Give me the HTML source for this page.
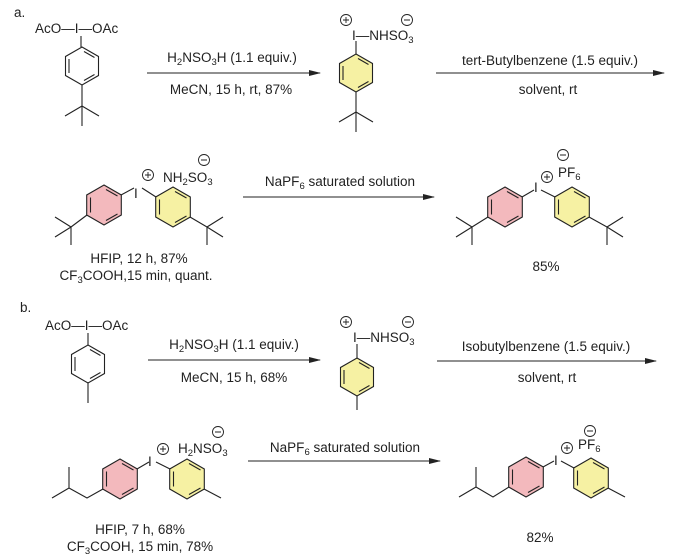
<!DOCTYPE html>
<html><head><meta charset="utf-8"><style>
html,body{margin:0;padding:0;background:#fff;}
svg{display:block;}
text{font-family:"Liberation Sans",Arial,sans-serif;font-size:13.5px;fill:#222;}
.s{font-size:9.5px;}
.m{text-anchor:middle;}
</style></head><body>
<svg width="693" height="558" viewBox="0 0 693 558" xmlns="http://www.w3.org/2000/svg">
<defs>
<marker id="ah" markerWidth="12" markerHeight="8" refX="11" refY="4" orient="auto" markerUnits="userSpaceOnUse">
<path d="M0,1 L12,4 L0,7 z" fill="#222"/>
</marker>
</defs>
<g stroke="#222" stroke-width="1.1" fill="none">
<g transform="translate(82,66)">
<polygon points="0,-19 16.5,-9.5 16.5,9.5 0,19 -16.5,9.5 -16.5,-9.5" fill="#fff"/>
<path d="M-13,-7 V7 M2,-14.5 L12.5,-8.5 M12.5,8.5 L2,14.5"/>
</g>
<path d="M81,36 V47 M82,85 V106 M82,106 L65,116 M82,106 L99,116 M82,106 V126"/>
<g transform="translate(356,73)">
<polygon points="0,-19 16.5,-9.5 16.5,9.5 0,19 -16.5,9.5 -16.5,-9.5" fill="#f6f1a3"/>
<path d="M-13,-7 V7 M2,-14.5 L12.5,-8.5 M12.5,8.5 L2,14.5"/>
</g>
<path d="M356,41 V54 M356,92 V112 M356,112 L339,122 M356,112 L373,122 M356,112 V132"/>
<path d="M147,73 H320" marker-end="url(#ah)"/>
<path d="M436,73 H664" marker-end="url(#ah)"/>
<path d="M243,197 H434" marker-end="url(#ah)"/>
<g transform="translate(104,205)">
<polygon points="0,-20 17.3,-10 17.3,10 0,20 -17.3,10 -17.3,-10" fill="#f3b9bd"/>
<path d="M-13.5,-7.5 V7.5 M2,-15.5 L13.5,-9 M13.5,9 L2,15.5"/>
</g>
<g transform="translate(173,207)">
<polygon points="0,-20 17.3,-10 17.3,10 0,20 -17.3,10 -17.3,-10" fill="#f6f1a3"/>
<path d="M-13.5,-7.5 V7.5 M2,-15.5 L13.5,-9 M13.5,9 L2,15.5"/>
</g>
<path d="M121,195 L134,188 M142,188 L156,197 M190,217 L207,227 M207,227 L223,217 M207,227 L223,237 M207,227 V245 M87,215 L71,227 M71,227 L55,217 M71,227 L55,237 M71,227 V245"/>
<g transform="translate(505,207)">
<polygon points="0,-20 17.3,-10 17.3,10 0,20 -17.3,10 -17.3,-10" fill="#f3b9bd"/>
<path d="M-13.5,-7.5 V7.5 M2,-15.5 L13.5,-9 M13.5,9 L2,15.5"/>
</g>
<g transform="translate(572,207)">
<polygon points="0,-20 17.3,-10 17.3,10 0,20 -17.3,10 -17.3,-10" fill="#f6f1a3"/>
<path d="M-13.5,-7.5 V7.5 M2,-15.5 L13.5,-9 M13.5,9 L2,15.5"/>
</g>
<path d="M522,197 L534,190 M541,190 L555,197 M589,217 L607,227 M607,227 L623,217 M607,227 L623,237 M607,227 V245 M488,217 L472,227 M472,227 L456,217 M472,227 L456,237 M472,227 V245"/>
<g transform="translate(88,364)">
<polygon points="0,-19 16.5,-9.5 16.5,9.5 0,19 -16.5,9.5 -16.5,-9.5" fill="#fff"/>
<path d="M-13,-7 V7 M2,-14.5 L12.5,-8.5 M12.5,8.5 L2,14.5"/>
</g>
<path d="M88,333 V345 M88,383 V403"/>
<g transform="translate(357,377)">
<polygon points="0,-19 16.5,-9.5 16.5,9.5 0,19 -16.5,9.5 -16.5,-9.5" fill="#f6f1a3"/>
<path d="M-13,-7 V7 M2,-14.5 L12.5,-8.5 M12.5,8.5 L2,14.5"/>
</g>
<path d="M357,344 V358 M357,396 V410"/>
<path d="M148,360 H320" marker-end="url(#ah)"/>
<path d="M437,361 H656" marker-end="url(#ah)"/>
<path d="M248,461 H440" marker-end="url(#ah)"/>
<g transform="translate(120,479)">
<polygon points="0,-20 17.3,-10 17.3,10 0,20 -17.3,10 -17.3,-10" fill="#f3b9bd"/>
<path d="M-13.5,-7.5 V7.5 M2,-15.5 L13.5,-9 M13.5,9 L2,15.5"/>
</g>
<g transform="translate(187,479)">
<polygon points="0,-20 17.3,-10 17.3,10 0,20 -17.3,10 -17.3,-10" fill="#f6f1a3"/>
<path d="M-13.5,-7.5 V7.5 M2,-15.5 L13.5,-9 M13.5,9 L2,15.5"/>
</g>
<path d="M137,469 L149,462 M156,462 L170,469 M204,489 L221,498 M103,489 L87,498 L69,488 M69,488 V467 M69,488 L52,498"/>
<g transform="translate(526,477)">
<polygon points="0,-20 17.3,-10 17.3,10 0,20 -17.3,10 -17.3,-10" fill="#f3b9bd"/>
<path d="M-13.5,-7.5 V7.5 M2,-15.5 L13.5,-9 M13.5,9 L2,15.5"/>
</g>
<g transform="translate(591,478)">
<polygon points="0,-20 17.3,-10 17.3,10 0,20 -17.3,10 -17.3,-10" fill="#f6f1a3"/>
<path d="M-13.5,-7.5 V7.5 M2,-15.5 L13.5,-9 M13.5,9 L2,15.5"/>
</g>
<path d="M543,467 L554,461 M561,461 L574,468 M608,488 L625,497 M509,487 L493,497 L476,487 M476,487 V467 M476,487 L459,497"/>
<g stroke-width="0.9">
<circle cx="346" cy="20" r="5.5"/><circle cx="407" cy="20" r="5.5"/>
<circle cx="148" cy="175" r="5.5"/><circle cx="204" cy="160" r="5.5"/>
<circle cx="547" cy="177" r="5.5"/><circle cx="563" cy="155" r="5.5"/>
<circle cx="346" cy="322" r="5.5"/><circle cx="408" cy="322" r="5.5"/>
<circle cx="163" cy="449" r="5.5"/><circle cx="218" cy="432" r="5.5"/>
<circle cx="567" cy="448" r="5.5"/><circle cx="590" cy="431" r="5.5"/>
</g>
<path stroke-width="0.9" d="M343,20 H349 M346,17 V23 M404,20 H410 M145,175 H151 M148,172 V178 M201,160 H207 M544,177 H550 M547,174 V180 M560,155 H566 M343,322 H349 M346,319 V325 M405,322 H411 M160,449 H166 M163,446 V452 M215,432 H221 M564,448 H570 M567,445 V451 M587,431 H593"/>
</g>
<text x="14" y="17">a.</text>
<text x="35" y="33">AcO—I—OAc</text>
<text class="m" x="232" y="62">H<tspan class="s" dy="3">2</tspan><tspan dy="-3">NSO</tspan><tspan class="s" dy="3">3</tspan><tspan dy="-3">H (1.1 equiv.)</tspan></text>
<text class="m" x="231" y="94">MeCN, 15 h, rt, 87%</text>
<text x="352" y="40">I—NHSO<tspan class="s" dy="3">3</tspan></text>
<text class="m" x="550" y="65">tert-Butylbenzene (1.5 equiv.)</text>
<text class="m" x="548" y="94">solvent, rt</text>
<text x="134" y="198">I</text>
<text x="163" y="182">NH<tspan class="s" dy="3">2</tspan><tspan dy="-3">SO</tspan><tspan class="s" dy="3">3</tspan></text>
<text class="m" x="340" y="186">NaPF<tspan class="s" dy="3">6</tspan><tspan dy="-3"> saturated solution</tspan></text>
<text class="m" x="139" y="263">HFIP, 12 h, 87%</text>
<text class="m" x="136" y="280">CF<tspan class="s" dy="3">3</tspan><tspan dy="-3">COOH,15 min, quant.</tspan></text>
<text x="534" y="192">I</text>
<text x="558" y="177">PF<tspan class="s" dy="3">6</tspan></text>
<text class="m" x="546" y="271">85%</text>
<text x="20" y="312">b.</text>
<text x="45" y="330">AcO—I—OAc</text>
<text class="m" x="234" y="349">H<tspan class="s" dy="3">2</tspan><tspan dy="-3">NSO</tspan><tspan class="s" dy="3">3</tspan><tspan dy="-3">H (1.1 equiv.)</tspan></text>
<text class="m" x="234" y="382">MeCN, 15 h, 68%</text>
<text x="353" y="342">I—NHSO<tspan class="s" dy="3">3</tspan></text>
<text class="m" x="546" y="351">Isobutylbenzene (1.5 equiv.)</text>
<text class="m" x="547" y="382">solvent, rt</text>
<text x="148" y="466">I</text>
<text x="178" y="453">H<tspan class="s" dy="3">2</tspan><tspan dy="-3">NSO</tspan><tspan class="s" dy="3">3</tspan></text>
<text class="m" x="345" y="452">NaPF<tspan class="s" dy="3">6</tspan><tspan dy="-3"> saturated solution</tspan></text>
<text class="m" x="140" y="534">HFIP, 7 h, 68%</text>
<text class="m" x="140" y="551">CF<tspan class="s" dy="3">3</tspan><tspan dy="-3">COOH, 15 min, 78%</tspan></text>
<text x="554" y="465">I</text>
<text x="578" y="449">PF<tspan class="s" dy="3">6</tspan></text>
<text class="m" x="540" y="542">82%</text>
</svg>
</body></html>
